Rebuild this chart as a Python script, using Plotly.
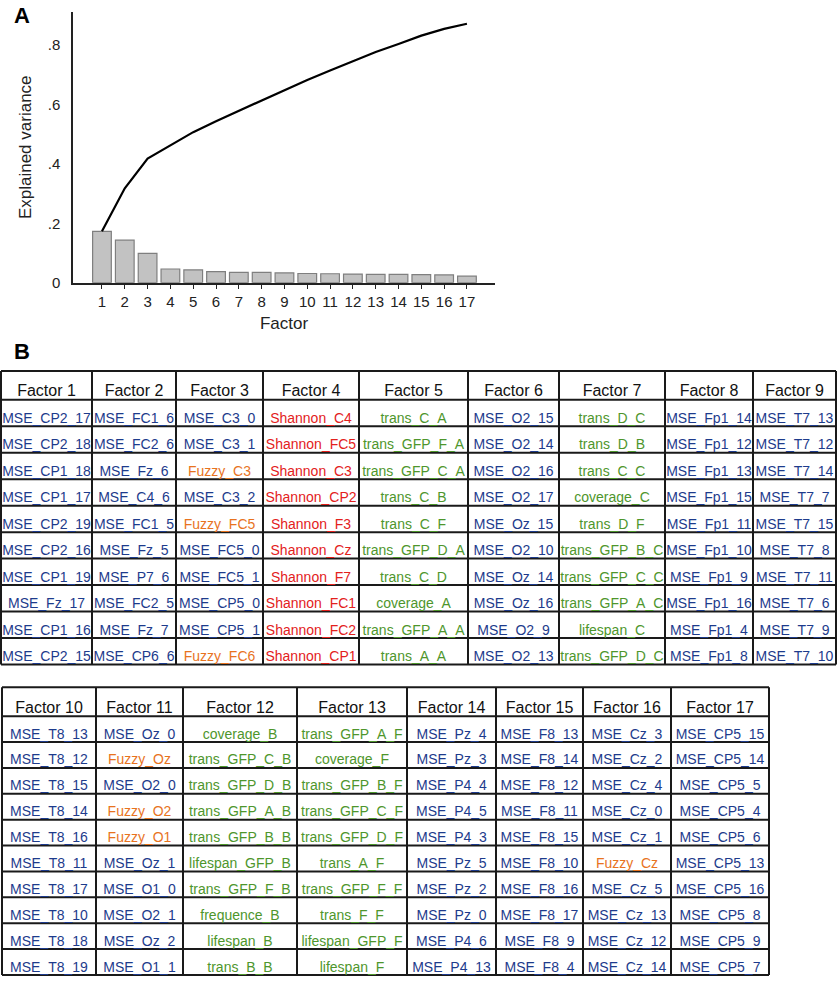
import plotly.graph_objects as go

W, H = 837, 984

# ---------------- data ----------------
factors = list(range(1, 18))
variance = [0.173, 0.143, 0.099, 0.046, 0.043, 0.037, 0.035, 0.035, 0.033,
            0.031, 0.030, 0.029, 0.028, 0.028, 0.027, 0.026, 0.022]
cumulative = [0.173, 0.318, 0.418, 0.462, 0.507, 0.544, 0.579, 0.615, 0.650,
              0.683, 0.715, 0.746, 0.777, 0.804, 0.832, 0.855, 0.872]
ytick_vals = [0, 0.2, 0.4, 0.6, 0.8]
ytick_text = ["0", ".2", ".4", ".6", ".8"]

headers1 = ["Factor 1", "Factor 2", "Factor 3", "Factor 4", "Factor 5",
            "Factor 6", "Factor 7", "Factor 8", "Factor 9"]
f1 = ["MSE_CP2_17", "MSE_CP2_18", "MSE_CP1_18", "MSE_CP1_17", "MSE_CP2_19",
      "MSE_CP2_16", "MSE_CP1_19", "MSE_Fz_17", "MSE_CP1_16", "MSE_CP2_15"]
f2 = ["MSE_FC1_6", "MSE_FC2_6", "MSE_Fz_6", "MSE_C4_6", "MSE_FC1_5",
      "MSE_Fz_5", "MSE_P7_6", "MSE_FC2_5", "MSE_Fz_7", "MSE_CP6_6"]
f3 = ["MSE_C3_0", "MSE_C3_1", "Fuzzy_C3", "MSE_C3_2", "Fuzzy_FC5",
      "MSE_FC5_0", "MSE_FC5_1", "MSE_CP5_0", "MSE_CP5_1", "Fuzzy_FC6"]
f4 = ["Shannon_C4", "Shannon_FC5", "Shannon_C3", "Shannon_CP2", "Shannon_F3",
      "Shannon_Cz", "Shannon_F7", "Shannon_FC1", "Shannon_FC2", "Shannon_CP1"]
f5 = ["trans_C_A", "trans_GFP_F_A", "trans_GFP_C_A", "trans_C_B", "trans_C_F",
      "trans_GFP_D_A", "trans_C_D", "coverage_A", "trans_GFP_A_A", "trans_A_A"]
f6 = ["MSE_O2_15", "MSE_O2_14", "MSE_O2_16", "MSE_O2_17", "MSE_Oz_15",
      "MSE_O2_10", "MSE_Oz_14", "MSE_Oz_16", "MSE_O2_9", "MSE_O2_13"]
f7 = ["trans_D_C", "trans_D_B", "trans_C_C", "coverage_C", "trans_D_F",
      "trans_GFP_B_C", "trans_GFP_C_C", "trans_GFP_A_C", "lifespan_C", "trans_GFP_D_C"]
f8 = ["MSE_Fp1_14", "MSE_Fp1_12", "MSE_Fp1_13", "MSE_Fp1_15", "MSE_Fp1_11",
      "MSE_Fp1_10", "MSE_Fp1_9", "MSE_Fp1_16", "MSE_Fp1_4", "MSE_Fp1_8"]
f9 = ["MSE_T7_13", "MSE_T7_12", "MSE_T7_14", "MSE_T7_7", "MSE_T7_15",
      "MSE_T7_8", "MSE_T7_11", "MSE_T7_6", "MSE_T7_9", "MSE_T7_10"]

headers2 = ["Factor 10", "Factor 11", "Factor 12", "Factor 13", "Factor 14",
            "Factor 15", "Factor 16", "Factor 17"]
f10 = ["MSE_T8_13", "MSE_T8_12", "MSE_T8_15", "MSE_T8_14", "MSE_T8_16",
       "MSE_T8_11", "MSE_T8_17", "MSE_T8_10", "MSE_T8_18", "MSE_T8_19"]
f11 = ["MSE_Oz_0", "Fuzzy_Oz", "MSE_O2_0", "Fuzzy_O2", "Fuzzy_O1",
       "MSE_Oz_1", "MSE_O1_0", "MSE_O2_1", "MSE_Oz_2", "MSE_O1_1"]
f12 = ["coverage_B", "trans_GFP_C_B", "trans_GFP_D_B", "trans_GFP_A_B", "trans_GFP_B_B",
       "lifespan_GFP_B", "trans_GFP_F_B", "frequence_B", "lifespan_B", "trans_B_B"]
f13 = ["trans_GFP_A_F", "coverage_F", "trans_GFP_B_F", "trans_GFP_C_F", "trans_GFP_D_F",
       "trans_A_F", "trans_GFP_F_F", "trans_F_F", "lifespan_GFP_F", "lifespan_F"]
f14 = ["MSE_Pz_4", "MSE_Pz_3", "MSE_P4_4", "MSE_P4_5", "MSE_P4_3",
       "MSE_Pz_5", "MSE_Pz_2", "MSE_Pz_0", "MSE_P4_6", "MSE_P4_13"]
f15 = ["MSE_F8_13", "MSE_F8_14", "MSE_F8_12", "MSE_F8_11", "MSE_F8_15",
       "MSE_F8_10", "MSE_F8_16", "MSE_F8_17", "MSE_F8_9", "MSE_F8_4"]
f16 = ["MSE_Cz_3", "MSE_Cz_2", "MSE_Cz_4", "MSE_Cz_0", "MSE_Cz_1",
       "Fuzzy_Cz", "MSE_Cz_5", "MSE_Cz_13", "MSE_Cz_12", "MSE_Cz_14"]
f17 = ["MSE_CP5_15", "MSE_CP5_14", "MSE_CP5_5", "MSE_CP5_4", "MSE_CP5_6",
       "MSE_CP5_13", "MSE_CP5_16", "MSE_CP5_8", "MSE_CP5_9", "MSE_CP5_7"]

table1 = [f1, f2, f3, f4, f5, f6, f7, f8, f9]
table2 = [f10, f11, f12, f13, f14, f15, f16, f17]

# ---------------- styles / layout constants ----------------
NAVY = "#1d3b8c"
RED = "#e3211c"
ORANGE = "#e8731e"
GREEN = "#4e962c"
LINE = "#1a1a1a"
FONT = "Liberation Sans, Arial, sans-serif"

T1 = dict(left=1, top=374, widths=[91, 84, 87, 96, 109, 91, 106, 88, 83],
          header_h=29, row_h=26.7)
T2 = dict(left=2, top=693, widths=[94, 87, 114, 110, 89, 87, 88, 98],
          header_h=29, row_h=26.1)


def colour(label):
    if label.startswith("MSE"):
        return NAVY
    if label.startswith("Shannon"):
        return RED
    if label.startswith("Fuzzy"):
        return ORANGE
    return GREEN


def px_x(v):
    return v / W


def px_y(v):
    return 1 - v / H


fig = go.Figure()

# ---------------- panel A ----------------
fig.add_trace(go.Bar(
    x=factors, y=variance, width=0.82,
    marker=dict(color="#c2c2c2", line=dict(color="#7f7f7f", width=1.2)),
    showlegend=False, hoverinfo="skip", xaxis="x", yaxis="y"))
fig.add_trace(go.Scatter(
    x=factors, y=cumulative, mode="lines",
    line=dict(color="black", width=2.2),
    showlegend=False, hoverinfo="skip", xaxis="x", yaxis="y"))

# ---------------- panel B tables (on an overlay axis in page pixels) ----------------
shapes = []


def draw_table(cols, headers, spec):
    xs = [spec["left"]]
    for w in spec["widths"]:
        xs.append(xs[-1] + w)
    ys = [spec["top"], spec["top"] + spec["header_h"]]
    for _ in range(len(cols[0])):
        ys.append(ys[-1] + spec["row_h"])
    centers = [(xs[i] + xs[i + 1]) / 2 for i in range(len(xs) - 1)]

    for x in xs:
        shapes.append(dict(type="line", xref="x2", yref="y2", x0=x, x1=x,
                           y0=ys[0], y1=ys[-1], layer="below",
                           line=dict(color=LINE, width=2)))
    for y in ys:
        shapes.append(dict(type="line", xref="x2", yref="y2", x0=xs[0], x1=xs[-1],
                           y0=y, y1=y, layer="below",
                           line=dict(color=LINE, width=2)))

    fig.add_trace(go.Scatter(
        x=centers, y=[ys[1] - 7.5] * len(headers), text=headers,
        mode="text", textposition="middle center",
        textfont=dict(family=FONT, size=16, color="#111111"),
        showlegend=False, hoverinfo="skip", xaxis="x2", yaxis="y2", cliponaxis=False))

    cx, cy, ct, cc = [], [], [], []
    for j, col in enumerate(cols):
        for i, label in enumerate(col):
            cx.append(centers[j])
            cy.append(ys[i + 2] - 7)
            ct.append(label)
            cc.append(colour(label))
    fig.add_trace(go.Scatter(
        x=cx, y=cy, text=ct, mode="text", textposition="middle center",
        textfont=dict(family=FONT, size=14, color=cc),
        showlegend=False, hoverinfo="skip", xaxis="x2", yaxis="y2", cliponaxis=False))


draw_table(table1, headers1, T1)
draw_table(table2, headers2, T2)

fig.update_layout(
    width=W, height=H,
    margin=dict(l=0, r=0, t=0, b=0),
    paper_bgcolor="white", plot_bgcolor="rgba(0,0,0,0)",
    font=dict(family=FONT, color="#222222"),
    shapes=shapes,
    xaxis=dict(domain=[px_x(73), px_x(495)], range=[-0.27, 18.23],
               tickvals=factors, ticktext=[str(f) for f in factors],
               showline=True, linecolor="#222222", linewidth=1.5,
               ticks="outside", ticklen=5, tickcolor="#222222",
               showgrid=False, zeroline=False, fixedrange=True,
               tickfont=dict(size=15, color="#222222"),
               title=dict(text="Factor", font=dict(size=17, color="#222222"), standoff=8),
               anchor="y"),
    yaxis=dict(domain=[px_y(285), px_y(12)], range=[0, 0.912],
               tickvals=ytick_vals, ticktext=ytick_text,
               showline=True, linecolor="#222222", linewidth=1.5,
               ticks="", showgrid=False, zeroline=False, fixedrange=True,
               ticklabelstandoff=8,
               tickfont=dict(size=15, color="#222222"),
               title=dict(text="Explained variance", font=dict(size=17, color="#222222"),
                          standoff=12),
               anchor="x"),
    xaxis2=dict(domain=[0, 1], range=[0, W], visible=False, fixedrange=True,
                anchor="y2"),
    yaxis2=dict(domain=[0, 1], range=[H, 0], visible=False, fixedrange=True,
                anchor="x2"),
    annotations=[
        dict(text="<b>A</b>", x=px_x(12), y=px_y(1), xref="paper", yref="paper",
             xanchor="left", yanchor="top", showarrow=False,
             font=dict(family=FONT, size=22, color="black")),
        dict(text="<b>B</b>", x=px_x(12), y=px_y(340), xref="paper", yref="paper",
             xanchor="left", yanchor="top", showarrow=False,
             font=dict(family=FONT, size=22, color="black")),
    ],
)

fig.write_html("out.html", config={"displayModeBar": False},
               post_script="document.body.style.margin='0';")
